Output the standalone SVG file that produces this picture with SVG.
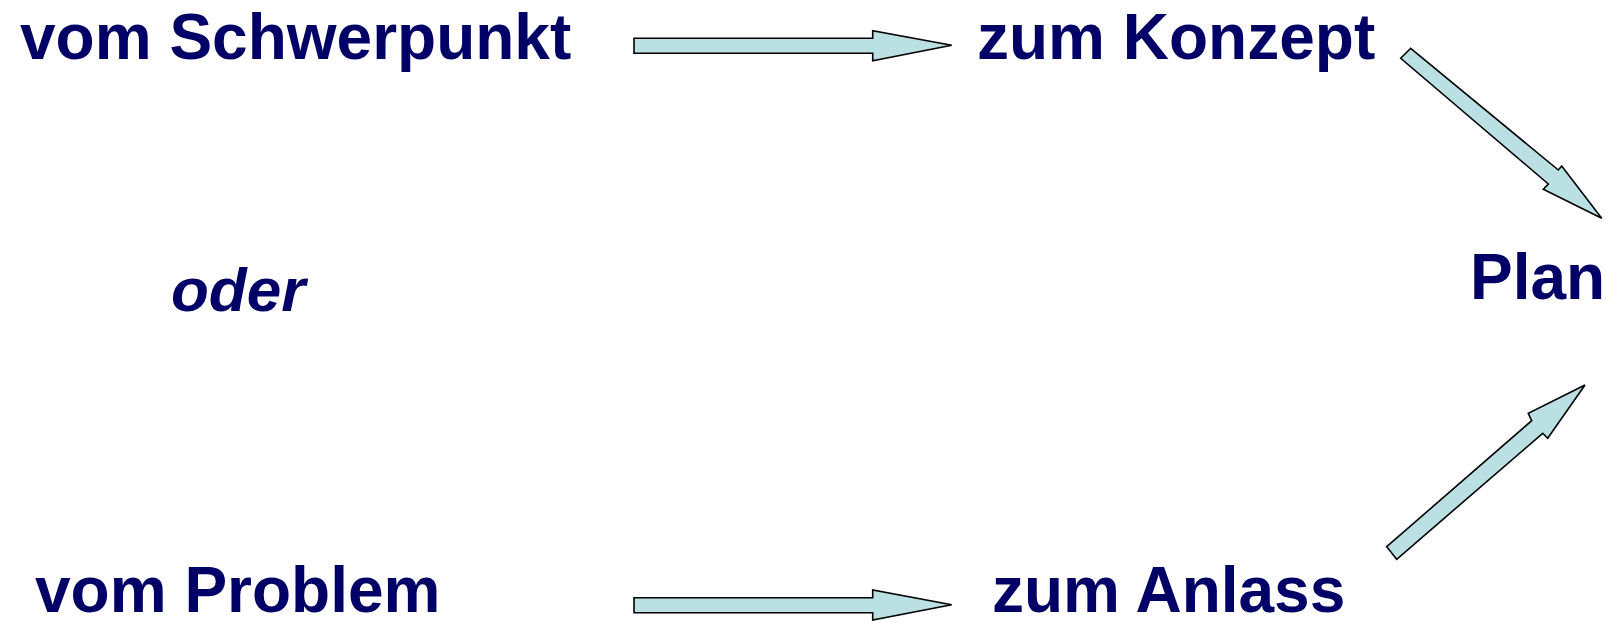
<svg xmlns="http://www.w3.org/2000/svg" width="1606" height="623" viewBox="0 0 1606 623">
<style>
.t{font-family:"Liberation Sans",Arial,sans-serif;font-weight:bold;font-size:64px;fill:#000066}
.i{font-style:italic;font-size:62px}
.a{fill:#BAE0E3;stroke:#000;stroke-width:1.6;stroke-linejoin:miter}
</style>
<rect width="1606" height="623" fill="#fff"/>
<g id="n-schwerpunkt"><text class="t" x="20" y="59">vom Schwerpunkt</text></g>
<g id="n-konzept"><text class="t" x="977" y="59">zum Konzept</text></g>
<g id="n-plan"><text class="t" x="1470" y="299">Plan</text></g>
<g id="n-oder"><text class="t i" x="171" y="311">oder</text></g>
<g id="n-problem"><text class="t" x="35" y="612">vom Problem</text></g>
<g id="n-anlass"><text class="t" x="992" y="612">zum Anlass</text></g>
<g id="connectors">
<polygon class="a" points="634,38.3 872.7,38.3 872.7,30.7 951.7,45.3 872.7,60.7 872.7,53.3 634,53.3"/>
<polygon class="a" points="634,597.7 872.7,597.7 872.7,590 951.7,604.7 872.7,620 872.7,612.7 634,612.7"/>
<polygon class="a" points="1410.7,48.3 1558.3,170 1561.7,166 1601.7,218.3 1543.3,189.3 1548.3,184 1400.7,58.3"/>
<polygon class="a" points="1386.7,546.7 1531.7,420.7 1528.3,413.3 1585,385 1547.7,438.3 1542.7,433.3 1396.7,559.3"/>
</g>
</svg>
